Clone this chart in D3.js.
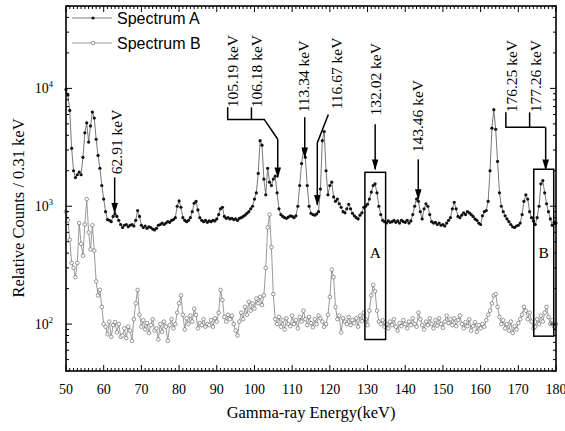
<!DOCTYPE html>
<html lang="en">
<head>
<meta charset="UTF-8">
<title>Gamma-ray spectra</title>
<script src="https://d3js.org/d3.v7.min.js"></script>
<style>
    body { margin: 0; background: #fff; }
    svg { display: block; }
    .tick-label { font-family: "Liberation Serif", "Times New Roman", serif; font-size: 14px; fill: #000; }
    .title { font-family: "Liberation Serif", "Times New Roman", serif; font-size: 16.5px; fill: #000; }
    .peak { font-family: "Liberation Serif", "Times New Roman", serif; font-size: 15.5px; fill: #000; }
    .legend { font-family: "Liberation Sans", Arial, sans-serif; font-size: 16px; fill: #000; }
</style>
</head>
<body>
<div id="chart"></div>
<script>
    // channel grid of the spectra (keV)
    const energyStart = 50;
    const energyStep = 0.5;

    // Spectrum A, counts per channel, 50.0 ... 180.0 keV
    const spectrumA = [
        9800, 8800, 6500, 3100, 2000, 1750, 1850, 1950, 1850, 2600,
        4200, 5100, 3500, 4800, 6300, 5600, 3700, 2700, 2100, 1500,   // 55
        1150, 900, 770, 760, 740, 820, 860, 820, 760, 700,            // 60
        660, 690, 700, 670, 690, 700, 680, 760, 920, 820,             // 65
        690, 660, 680, 650, 670, 660, 640, 630, 650, 690,             // 70
        700, 720, 700, 720, 740, 730, 760, 770, 800, 1000,            // 75
        1110, 980, 800, 760, 740, 760, 800, 900, 1060, 1100,          // 80
        930, 800, 760, 740, 760, 730, 750, 740, 760, 750,             // 85
        780, 850, 950, 980, 820, 790, 800, 780, 790, 770,             // 90
        780, 760, 790, 800, 820, 840, 870, 900, 950, 1000,            // 95
        1150, 1300, 1900, 3600, 3300, 1700, 1250, 2100, 1600, 1500,   // 100
        1700, 1800, 1300, 950, 850, 820, 800, 790, 810, 830,          // 105
        820, 800, 830, 1000, 1500, 2300, 3000, 2600, 1500, 1000,      // 110
        870, 850, 840, 860, 900, 1400, 3600, 4300, 2000, 1250,        // 115
        1500, 1600, 1200, 1100, 1150, 1050, 980, 900, 880, 950,       // 120
        1040, 950, 870, 830, 800, 780, 840, 880, 980, 1000,           // 125
        1040, 1150, 1320, 1500, 1550, 1300, 1000, 850, 760, 740,      // 130
        720, 750, 730, 740, 760, 730, 750, 720, 760, 740,             // 135
        730, 760, 720, 750, 850, 1000, 1150, 1100, 900, 780,          // 140
        950, 1050, 1000, 850, 740, 720, 730, 700, 720, 690,           // 145
        700, 680, 720, 760, 800, 950, 1080, 950, 820, 800,            // 150
        840, 880, 850, 900, 880, 850, 820, 780, 760, 720,             // 155
        700, 830, 900, 920, 1100, 2000, 4600, 6600, 4500, 2400,       // 160
        1300, 1000, 900, 830, 780, 740, 700, 670, 660, 680,           // 165
        690, 720, 850, 1100, 1250, 1150, 900, 800, 750, 700,          // 170
        800, 1000, 1550, 1650, 1300, 1050, 900, 780, 690, 730,        // 175
        720                                                           // 180
    ];

    // Spectrum B, counts per channel, 50.0 ... 180.0 keV
    const spectrumB = [
        900, 760, 520, 330, 300, 250, 330, 720, 480, 380,
        700, 1150, 600, 430, 690, 420, 230, 175, 195, 140,            // 55
        100, 95, 82, 105, 78, 98, 104, 85, 100, 78,                   // 60
        80, 92, 76, 95, 88, 72, 110, 150, 195, 120,                   // 65
        95, 108, 90, 102, 84, 98, 110, 88, 92, 74,                    // 70
        100, 86, 105, 95, 72, 98, 110, 92, 100, 125,                  // 75
        150, 175, 120, 90, 112, 100, 118, 105, 135, 120,              // 80
        92, 102, 98, 110, 95, 100, 98, 108, 95, 112,                  // 85
        105, 125, 195, 160, 115, 105, 120, 110, 118, 100,             // 90
        88, 80, 105, 125, 110, 140, 120, 155, 130, 150,               // 95
        135, 165, 150, 170, 145, 175, 300, 660, 850, 450,             // 100
        180, 110, 100, 115, 95, 108, 90, 112, 100, 96,                // 105
        118, 100, 108, 92, 115, 105, 130, 110, 98, 115,               // 110
        102, 94, 110, 100, 118, 112, 105, 95, 100, 120,               // 115
        170, 290, 250, 140, 110, 118, 85, 112, 105, 100,              // 120
        115, 98, 108, 102, 112, 95, 118, 106, 125, 110,               // 125
        98, 130, 175, 215, 190, 130, 105, 100, 108, 95,               // 130
        100, 92, 105, 98, 110, 95, 88, 102, 96, 108,                  // 135
        100, 92, 105, 98, 112, 100, 95, 125, 110, 98,                 // 140
        90, 105, 98, 112, 100, 92, 108, 97, 112, 100,                 // 145
        93, 105, 118, 102, 110, 98, 112, 96, 108, 118,                // 150
        100, 92, 104, 96, 110, 88, 96, 104, 86, 98,                   // 155
        92, 100, 95, 108, 120, 130, 150, 175, 180, 140,               // 160
        115, 100, 108, 92, 100, 88, 105, 84, 96, 90,                  // 165
        102, 110, 120, 140, 130, 110, 125, 105, 92, 95,               // 170
        110, 100, 118, 105, 125, 140, 115, 100, 108, 95,              // 175
        100                                                           // 180
    ];

    const xTicks = [50, 60, 70, 80, 90, 100, 110, 120, 130, 140, 150, 160, 170, 180];
    const yTicks = [100, 1000, 10000];
    const yTickExponents = ["2", "3", "4"];
    const seriesNames = ["Spectrum A", "Spectrum B"];

    // marked peaks: label, arrow energy (keV)
    const peakLabels = ["62.91 keV", "105.19 keV", "106.18 keV", "113.34 keV", "116.67 keV",
                        "132.02 keV", "143.46 keV", "176.25 keV", "177.26 keV"];
    const arrowEnergies = [62.91, 106.18, 113.34, 116.67, 132.02, 143.46, 177.26];

    // regions A and B: [from keV, to keV]
    const boxNames = ["A", "B"];
    const boxRanges = [[129.3, 134.8], [174.1, 179.4]];

    const width = 565, height = 431;
    const margin = {top: 6, right: 9, bottom: 60, left: 66};
    const innerW = width - margin.left - margin.right;
    const innerH = height - margin.top - margin.bottom;

    const svg = d3.select('#chart').append('svg')
        .attr('width', width)
        .attr('height', height);

    svg.append('defs').append('marker')
        .attr('id', 'head')
        .attr('viewBox', '0 0 10 6')
        .attr('refX', 9).attr('refY', 3)
        .attr('markerWidth', 7.3).attr('markerHeight', 4.4)
        .attr('markerUnits', 'strokeWidth')
        .attr('orient', 'auto')
        .append('path')
        .attr('d', 'M0,0 L10,3 L0,6 z')
        .attr('fill', '#000');

    const x = d3.scaleLinear().domain([50, 180]).range([0, innerW]);
    const y = d3.scaleLog().domain([40, 50000]).range([innerH, 0]);

    const g = svg.append('g').attr('transform', `translate(${margin.left},${margin.top})`);

    const toPoints = arr => arr.map((v, i) => [energyStart + i * energyStep, v]);
    const dataA = toPoints(spectrumA);
    const dataB = toPoints(spectrumB);

    const line = d3.line().x(d => x(d[0])).y(d => y(d[1]));

    // spectrum B (open circles)
    g.append('path').datum(dataB)
        .attr('d', line).attr('fill', 'none')
        .attr('stroke', '#808080').attr('stroke-width', 0.8);
    g.append('g').selectAll('circle').data(dataB).join('circle')
        .attr('cx', d => x(d[0])).attr('cy', d => y(d[1]))
        .attr('r', 1.8).attr('fill', '#fff')
        .attr('stroke', '#555').attr('stroke-width', 0.6);

    // spectrum A (filled circles)
    g.append('path').datum(dataA)
        .attr('d', line).attr('fill', 'none')
        .attr('stroke', '#555').attr('stroke-width', 0.8);
    g.append('g').selectAll('circle').data(dataA).join('circle')
        .attr('cx', d => x(d[0])).attr('cy', d => y(d[1]))
        .attr('r', 1.6).attr('fill', '#111');

    // axes, ticks inward on all four sides
    const xMinor = d3.range(50, 181, 1).filter(v => v % 10 !== 0);
    const yMinor = [];
    [10, 100, 1000, 10000].forEach(dec => {
        for (let k = 2; k <= 9; k++) {
            const v = dec * k;
            if (v >= 40 && v <= 50000) yMinor.push(v);
        }
    });

    const axisG = g.append('g').attr('stroke', '#000').attr('stroke-width', 1);
    function hTicks(vals, len) {
        vals.forEach(v => {
            axisG.append('line').attr('x1', x(v)).attr('x2', x(v))
                .attr('y1', innerH).attr('y2', innerH - len);
            axisG.append('line').attr('x1', x(v)).attr('x2', x(v))
                .attr('y1', 0).attr('y2', len);
        });
    }
    function vTicks(vals, len) {
        vals.forEach(v => {
            axisG.append('line').attr('y1', y(v)).attr('y2', y(v))
                .attr('x1', 0).attr('x2', len);
            axisG.append('line').attr('y1', y(v)).attr('y2', y(v))
                .attr('x1', innerW).attr('x2', innerW - len);
        });
    }
    hTicks(xTicks, 6);
    hTicks(xMinor, 3);
    vTicks(yTicks, 6);
    vTicks(yMinor, 3);

    g.append('rect').attr('width', innerW).attr('height', innerH)
        .attr('fill', 'none').attr('stroke', '#000').attr('stroke-width', 1.6);

    g.append('g').selectAll('text').data(xTicks).join('text')
        .attr('class', 'tick-label')
        .attr('x', d => x(d)).attr('y', innerH + 23)
        .attr('text-anchor', 'middle')
        .text(d => d);

    const yl = g.append('g').selectAll('text').data(yTicks).join('text')
        .attr('class', 'tick-label')
        .attr('x', -13).attr('y', d => y(d) + 5)
        .attr('text-anchor', 'end');
    yl.append('tspan').text('10');
    yl.append('tspan').attr('dy', -6).attr('font-size', 8.5).text((d, i) => yTickExponents[i]);

    svg.append('text').attr('class', 'title')
        .attr('x', 311).attr('y', 418)
        .attr('text-anchor', 'middle')
        .text('Gamma-ray Energy(keV)');
    svg.append('text').attr('class', 'title')
        .attr('transform', 'translate(24,208) rotate(-90)')
        .attr('text-anchor', 'middle')
        .text('Relative Counts / 0.31 keV');

    // legend
    const legendG = g.append('g');
    seriesNames.forEach((name, i) => {
        const ly = 12 + i * 25;
        legendG.append('line').attr('x1', 6).attr('x2', 46).attr('y1', ly).attr('y2', ly)
            .attr('stroke', i === 0 ? '#555' : '#808080').attr('stroke-width', 0.8);
        legendG.append('circle').attr('cx', 27).attr('cy', ly).attr('r', i === 0 ? 1.6 : 1.8)
            .attr('fill', i === 0 ? '#111' : '#fff')
            .attr('stroke', i === 0 ? 'none' : '#555').attr('stroke-width', 0.6);
        legendG.append('text').attr('class', 'legend')
            .attr('x', 51).attr('y', ly + 6).text(name);
    });

    // peak labels: [label index, label energy, label bottom counts]
    const labelPlaces = [
        [0, 63.4, 1870], [1, 94.2, 6900], [2, 100.6, 6900], [3, 113.1, 6260], [4, 121.7, 6640],
        [5, 132.1, 5900], [6, 143.3, 2870], [7, 168.3, 6260], [8, 174.6, 6260]
    ];
    g.append('g').selectAll('text').data(labelPlaces).join('text')
        .attr('class', 'peak')
        .attr('transform', d => `translate(${x(d[1])},${y(d[2])}) rotate(-90)`)
        .attr('dy', '0.35em')
        .text(d => peakLabels[d[0]]);

    const lead = g.append('g').attr('stroke', '#000').attr('stroke-width', 1.5).attr('fill', 'none');
    const pl = d3.line().x(d => x(d[0])).y(d => y(d[1]));

    // arrows: [arrow index, tail counts, tip counts]
    const arrows = [[0, 1760, 880], [1, 3700, 1760], [2, 5700, 2600], [3, 3450, 1030],
                    [4, 4950, 2060], [5, 2500, 1150], [6, 4670, 2060]];
    arrows.forEach(a => {
        const e = arrowEnergies[a[0]];
        lead.append('path').attr('d', pl([[e, a[1]], [e, a[2]]]))
            .attr('marker-end', 'url(#head)');
    });

    // bracket leaders for the close doublets
    lead.append('path').attr('d', pl([[92.9, 6900], [92.9, 5450], [102.6, 5450], [106.18, 3700]]));
    lead.append('path').attr('d', pl([[99.2, 6900], [99.2, 5450]]));
    lead.append('path').attr('d', pl([[119.6, 6000], [116.67, 3450]]));
    lead.append('path').attr('d', pl([[166.7, 6260], [166.7, 4670], [177.26, 4670]]));
    lead.append('path').attr('d', pl([[173.0, 6260], [173.0, 4670]]));

    // regions A and B
    const boxG = g.append('g');
    boxRanges.forEach((r, i) => {
        boxG.append('rect')
            .attr('x', x(r[0])).attr('y', y(i === 0 ? 1940 : 2060))
            .attr('width', x(r[1]) - x(r[0]))
            .attr('height', y(i === 0 ? 74 : 79) - y(i === 0 ? 1940 : 2060))
            .attr('fill', 'none').attr('stroke', '#000').attr('stroke-width', 1.5);
        boxG.append('text').attr('class', 'peak')
            .attr('x', x((r[0] + r[1]) / 2)).attr('y', y(400) + 5)
            .attr('text-anchor', 'middle').attr('font-size', 17)
            .text(boxNames[i]);
    });
</script>
</body>
</html>
